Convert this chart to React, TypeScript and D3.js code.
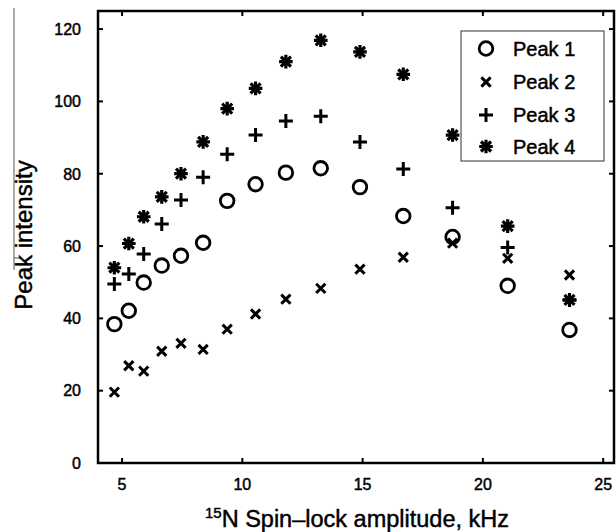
import React from "react";
import * as d3 from "d3";

const amplitudes = [4.68, 5.28, 5.9, 6.65, 7.45, 8.37, 9.37, 10.55, 11.81, 13.26, 14.89, 16.69, 18.74, 21.03, 23.6];
const peak1 = [38.4, 42.1, 49.9, 54.6, 57.3, 60.9, 72.5, 77.1, 80.3, 81.5, 76.3, 68.3, 62.5, 49.0, 36.8];
const peak2 = [19.6, 26.9, 25.4, 30.9, 33.1, 31.4, 37.0, 41.2, 45.3, 48.3, 53.6, 56.9, 60.8, 56.6, 52.0];
const peak3 = [49.5, 52.3, 57.8, 66.1, 72.7, 79.0, 85.4, 90.7, 94.6, 95.9, 88.8, 81.3, 70.6, 59.6, 45.1];
const peak4 = [54.0, 60.7, 68.1, 73.6, 80.0, 88.8, 98.0, 103.6, 111.0, 116.9, 113.7, 107.5, 90.7, 65.5, 45.1];

const seriesNames = ["Peak 1", "Peak 2", "Peak 3", "Peak 4"];
const seriesMarkers = ["circle", "cross", "plus", "star"];
const xTicks = [5, 10, 15, 20, 25];
const yTicks = [0, 20, 40, 60, 80, 100, 120];

const W = 616;
const H = 532;
const left = 98, right = 614, top = 11, bottom = 463;
const FONT = "'Liberation Sans', Arial, Helvetica, sans-serif";
const TXT = { fill: "#000", stroke: "#000", strokeWidth: 0.45 };

function Marker({ type, x, y }: { type: string; x: number; y: number }) {
  const sw = 3;
  if (type === "circle") {
    return <circle cx={x} cy={y} r={6.8} fill="none" stroke="#000" strokeWidth={2.8} />;
  }
  const plusPath = `M${x - 7},${y}L${x + 7},${y}M${x},${y - 7}L${x},${y + 7}`;
  const crossPath = (s: number) => `M${x - s},${y - s}L${x + s},${y + s}M${x - s},${y + s}L${x + s},${y - s}`;
  if (type === "cross") {
    return <path d={crossPath(4.6)} stroke="#000" strokeWidth={sw} fill="none" />;
  }
  if (type === "plus") {
    return <path d={plusPath} stroke="#000" strokeWidth={sw} fill="none" />;
  }
  return (
    <g>
      <path d={`M${x - 6.8},${y}L${x + 6.8},${y}M${x},${y - 6.8}L${x},${y + 6.8}`} stroke="#000" strokeWidth={3.2} fill="none" />
      <path d={crossPath(5)} stroke="#000" strokeWidth={3.2} fill="none" />
      <circle cx={x} cy={y} r={3.6} fill="#000" />
    </g>
  );
}

export default function App() {
  const x = d3.scaleLinear().domain([4, 25.45]).range([left, right]);
  const y = d3.scaleLinear().domain([0, 125]).range([bottom, top]);
  const series = [peak1, peak2, peak3, peak4];
  const tickLen = 5;

  const legendX = 461, legendY = 31, legendW = 143, legendH = 130;
  const legendRows = [48.5, 82, 115, 146.5];

  return (
    <svg width={W} height={H} style={{ position: "absolute", left: 0, top: 0, background: "#fff" }} fontFamily={FONT}>
      <rect x={0} y={0} width={W} height={H} fill="#fff" />
      {/* stray border fragment from source figure */}
      <path d="M14,8L14,270M14,258L20,258" stroke="#555" strokeWidth={1} fill="none" />

      {/* ticks */}
      {xTicks.map((t) => (
        <g key={"xt" + t}>
          <line x1={x(t)} x2={x(t)} y1={bottom} y2={bottom - tickLen} stroke="#000" strokeWidth={2} />
          <line x1={x(t)} x2={x(t)} y1={top} y2={top + tickLen} stroke="#000" strokeWidth={2} />
          <text x={x(t)} y={490} fontSize={16} textAnchor="middle" {...TXT}>{t}</text>
        </g>
      ))}
      {yTicks.map((t) => (
        <g key={"yt" + t}>
          <line x1={left} x2={left + tickLen} y1={y(t)} y2={y(t)} stroke="#000" strokeWidth={2} />
          <line x1={right} x2={right - tickLen} y1={y(t)} y2={y(t)} stroke="#000" strokeWidth={2} />
          <text x={81} y={y(t) + 5.8} fontSize={16} textAnchor="end" {...TXT}>{t}</text>
        </g>
      ))}

      {/* frame */}
      <rect x={left} y={top} width={right - left} height={bottom - top} fill="none" stroke="#000" strokeWidth={2.5} />

      {/* data */}
      {series.map((vals, si) => (
        <g key={"s" + si}>
          {vals.map((v, i) => (
            <Marker key={i} type={seriesMarkers[si]} x={x(amplitudes[i])} y={y(v)} />
          ))}
        </g>
      ))}

      {/* legend */}
      <rect x={legendX} y={legendY} width={legendW} height={legendH} fill="#fff" stroke="#333" strokeWidth={1} />
      {seriesNames.map((n, i) => (
        <g key={n}>
          <Marker type={seriesMarkers[i]} x={486} y={legendRows[i]} />
          <text x={513} y={legendRows[i] + 7} fontSize={20} {...TXT}>{n}</text>
        </g>
      ))}

      {/* axis labels */}
      <text x={357} y={527} fontSize={23.5} textAnchor="middle" {...TXT}>
        <tspan fontSize={15} dy={-9}>15</tspan>
        <tspan dy={9}>N Spin–lock amplitude, kHz</tspan>
      </text>
      <text transform={`translate(32,235) rotate(-90)`} fontSize={24} textAnchor="middle" {...TXT}>Peak intensity</text>
    </svg>
  );
}
